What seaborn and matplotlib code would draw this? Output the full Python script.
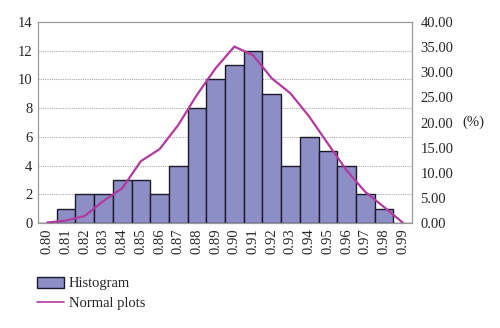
import matplotlib
matplotlib.use("Agg")
import matplotlib.pyplot as plt
import seaborn as sns
import pandas as pd
from matplotlib.patches import Patch
from matplotlib.lines import Line2D

categories = ["0.80", "0.81", "0.82", "0.83", "0.84", "0.85", "0.86", "0.87", "0.88", "0.89",
              "0.90", "0.91", "0.92", "0.93", "0.94", "0.95", "0.96", "0.97", "0.98", "0.99"]
counts = [0, 1, 2, 2, 3, 3, 2, 4, 8, 10, 11, 12, 9, 4, 6, 5, 4, 2, 1, 0]
normal_pct = [0.1, 0.5, 1.4, 4.4, 6.9, 12.3, 14.7, 19.5, 25.5, 30.8,
              35.1, 33.4, 28.8, 25.8, 21.2, 15.8, 10.5, 6.2, 3.2, 0.1]
left_ticks = [0, 2, 4, 6, 8, 10, 12, 14]
right_ticks = [0, 5, 10, 15, 20, 25, 30, 35, 40]

bar_color = "#8E8EC6"
line_color = "#B2399E"

sns.set_style("white")
plt.rcParams["font.family"] = ["Liberation Serif", "DejaVu Serif"]

df = pd.DataFrame({"cat": categories, "count": counts, "pct": normal_pct})

fig = plt.figure(figsize=(5.0, 3.28), dpi=100)
ax = fig.add_axes([0.076, 0.320, 0.748, 0.613])

sns.barplot(data=df, x="cat", y="count", order=categories, color=bar_color,
            width=1.0, edgecolor="#1a1a2a", linewidth=1.0, saturation=1, ax=ax, zorder=3)
ax.set_ylim(0, 14)
ax.set_xlim(-0.5, len(categories) - 0.5)
ax.set_yticks(left_ticks)
ax.set_yticklabels([str(t) for t in left_ticks], fontsize=10.5)
ax.set_xticks(range(len(categories)))
ax.set_xticklabels(categories, rotation=90, fontsize=10.5)
ax.set_xlabel("")
ax.set_ylabel("")
ax.tick_params(axis="both", length=0, pad=4)
for t in left_ticks[1:-1]:
    ax.axhline(t, color="#aaaaaa", linestyle=(0, (1, 1)), linewidth=0.8, zorder=1)
for s in ax.spines.values():
    s.set_color("#999999")
    s.set_linewidth(0.8)

ax2 = ax.twinx()
sns.lineplot(x=list(range(len(categories))), y=normal_pct, color=line_color,
             linewidth=1.6, ax=ax2, zorder=5)
ax2.set_ylim(0, 40)
ax2.set_yticks(right_ticks)
ax2.set_yticklabels([f"{t:.2f}" for t in right_ticks], fontsize=10.5)
ax2.tick_params(axis="y", length=0, pad=6)
ax2.set_ylabel("")
ax2.set_xlim(-0.5, len(categories) - 0.5)
for s in ax2.spines.values():
    s.set_color("#999999")
    s.set_linewidth(0.8)
fig.text(0.924, 1 - 122 / 328, "(%)", fontsize=10.5, va="center", ha="left")

handles = [Patch(facecolor=bar_color, edgecolor="#1a1a2a", linewidth=1.0),
           Line2D([0], [0], color=line_color, linewidth=1.2)]
fig.legend(handles, ["Histogram", "Normal plots"], loc="upper left",
           bbox_to_anchor=(0.074, 1 - 277 / 328), frameon=False, fontsize=10.5,
           handlelength=1.85, handleheight=0.75, labelspacing=0.45, handletextpad=0.35,
           borderaxespad=0, borderpad=0)

fig.savefig("out.png", dpi=100)
